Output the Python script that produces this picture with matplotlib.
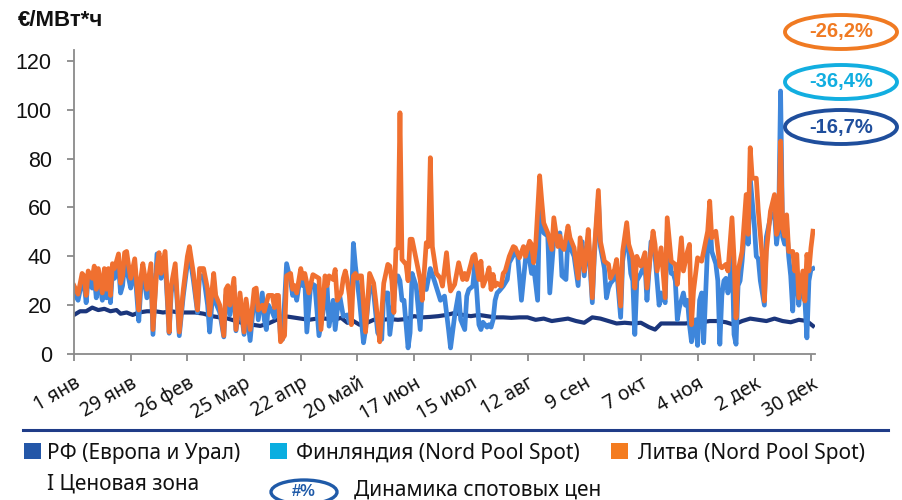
import matplotlib.pyplot as plt
from matplotlib.patches import Ellipse, Rectangle
from matplotlib.lines import Line2D

# day of year (0 = 1 янв) and daily spot price, €/MWh
lt_days = [0, 2, 4, 5, 6, 7, 9, 10, 11, 12, 14, 15, 16, 17, 18, 19, 20, 22, 23, 24,
           25, 26, 27, 28, 30, 32, 33, 34, 36, 38, 39, 41, 42, 43, 45, 47, 48, 50, 52, 54,
           56, 57, 59, 61, 62, 64, 66, 67, 69, 70, 72, 74, 75, 76, 77, 79, 80, 82, 84, 85,
           87, 89, 90, 91, 93, 94, 96, 98, 99, 100, 101, 102, 104, 105, 107, 108, 109, 110, 112, 113,
           114, 116, 118, 119, 121,
           122, 124, 125, 126, 128, 129, 130, 132, 133, 134, 135, 136, 137, 138, 139, 140, 141, 142, 143, 144,
           146, 148, 149, 150, 151, 153, 155, 156, 157, 158, 159, 160, 161, 162, 164, 165, 166, 167, 169, 171,
           172, 174, 175, 176, 177, 179, 181, 182, 184, 185, 186, 188, 190, 192, 193, 194, 196, 197, 198, 200,
           201, 202, 204, 205, 206, 207, 208, 209, 211, 212, 213, 215, 217, 218, 220, 222, 223, 225, 226, 227,
           228, 230, 231, 232, 234, 236, 237, 239, 240, 241, 242,
           244, 245, 247, 249, 250, 252, 253, 254, 256, 257, 259, 260, 262, 264, 265, 267, 268, 270, 271, 273,
           274, 276, 277, 278, 280, 282, 283, 286, 287, 288, 290, 292, 293, 295, 297, 298, 300, 301, 303, 304,
           305, 306, 308, 310, 311, 313, 314, 315, 317, 319, 320, 322, 323, 325, 326, 327, 328, 330, 332, 333,
           334, 335, 337, 338, 340, 341, 342, 344, 346, 347, 348, 349, 350, 351, 352, 353, 355, 356, 357, 358,
           360, 361, 362, 363, 364, 365]
lt_vals = [28, 24.5, 33, 32, 24, 34, 31, 36, 26.5, 35, 25, 35, 26.5, 35, 24, 37, 35, 41, 29, 32,
           41.5, 42, 36, 31, 39, 18, 31, 37, 26.5, 37, 10, 36, 41.5, 33, 42, 9, 28, 37, 9, 26.5,
           40, 44, 33, 18, 35, 35, 26.5, 16, 33, 24, 20, 7.5, 26.5, 28, 20, 31, 10, 25, 9, 22.5,
           10, 26.5, 27, 18, 20, 17.5, 24, 24, 19, 24, 24, 5, 7.5, 32, 33, 26.5, 28, 25, 35, 31,
           33, 25, 32.5, 32, 31,
           10, 32, 28, 32, 30.5, 34.6, 22, 25, 31, 34, 30, 24, 12, 32, 33, 31, 32, 32, 20, 9,
           33, 29, 22, 14, 5, 29, 36.7, 36, 30, 17, 42.8, 43.5, 98.8, 38.7, 36.7, 30, 47, 47, 38.7, 30.5,
           22, 45.6, 44, 80.4, 44, 33, 31, 27.8, 41.5, 32, 25.8, 28.5, 37.4, 30.5, 33, 30.5, 36.7, 40, 40.8, 30.5,
           38, 27.8, 32, 35.3, 26.4, 32.6, 27.8, 29, 27.8, 33, 34, 40, 44, 43.5, 39.4, 44, 40, 46.2, 44.9, 37.4,
           44, 73, 63, 53.7, 49.6, 42.8, 55.8, 44, 48.3, 44, 42.8,
           52.4, 47.6, 43.5, 31, 47.6, 34, 42, 51, 23, 42, 67, 46.2, 38, 36.7, 31, 34.6, 38.7, 19.6, 42, 53.8,
           44.9, 39.4, 27, 40, 36, 41.5, 27, 50.3, 44.9, 34, 43.5, 23, 55.8, 38, 36.7, 28.5, 47.6, 34, 42, 44.9,
           12, 25.8, 39.4, 38, 42, 50.3, 62.6, 47.6, 50.3, 36, 35.3, 36.7, 34, 55.8, 39.4, 14.8, 34, 42, 65.3, 49,
           84.5, 72, 72, 58.5, 39.4, 21.7, 42, 58.5, 65.3, 49, 51.7, 87.2, 51.7, 48.3, 57, 42, 42, 34, 40.8, 23,
           34, 21.7, 40.8, 34, 43.5, 50.3]

fi_days = [0, 2, 4, 5, 6, 7, 9, 10, 11, 12, 14, 15, 16, 17, 18, 19, 20, 22, 23, 24,
           25, 26, 27, 28, 30, 32, 33, 34, 36, 38, 39, 41, 42, 43, 45, 47, 48, 50, 52, 54,
           56, 57, 59, 61, 62, 64, 66, 67, 69, 70, 72, 74, 75, 76, 77, 79, 80, 82, 84, 85,
           87, 89, 90, 91, 93, 94, 95, 96, 98, 99, 100, 101, 102, 103, 105, 107, 108, 109, 110, 112,
           113, 114, 115, 117, 119, 121,
           123, 125, 126, 128, 129, 131, 133, 135, 136, 137, 138, 139, 141, 143, 144, 146, 148, 150, 152, 153,
           155, 156, 157, 158, 159, 160, 161, 162, 163, 165, 166, 167, 169, 171, 172, 174, 176, 178, 181, 183,
           185, 186, 188, 190, 191, 193, 194, 195, 197, 198, 200, 201, 202, 203, 204, 205, 206, 207, 208, 209,
           210, 212, 214, 215, 218, 219, 221, 223, 224, 226, 227, 229, 230, 231, 232, 234, 235, 237, 239, 240,
           241, 243,
           244, 245, 247, 249, 250, 251, 252, 253, 254, 256, 257, 259, 260, 262, 263, 264, 265, 267, 268, 270,
           271, 273, 274, 275, 276, 277, 278, 280, 282, 283, 285, 287, 288, 289, 290, 292, 293, 295, 296, 297,
           298, 299, 300, 301, 302, 303, 304, 305, 306, 307, 308, 309, 310, 311, 312, 313, 314, 315, 317, 318,
           319, 320, 321, 322, 323, 324, 325, 326, 327, 328, 329, 330, 332, 333, 334, 336, 337, 338, 339, 341,
           342, 343, 344, 346, 347, 348, 349, 350, 351, 352, 353, 354, 355, 356, 357, 358, 359, 360, 361, 362,
           363, 364, 365]
fi_vals = [25, 22, 30, 29, 21, 31, 27, 32, 23, 32, 22, 32, 23, 32, 21, 34, 31, 36, 25, 28,
           37, 34, 31, 27, 35, 13.5, 27, 34, 23, 33, 8, 41, 40, 31, 38, 8.5, 25, 34, 7.5, 24,
           37, 41, 30, 17, 32, 32, 20, 9, 30, 21, 17, 7, 24, 25, 16, 28, 9.5, 22, 8, 20,
           5.5, 23, 24, 14, 25, 14, 10, 20, 17, 15, 21, 20, 7, 6, 37, 30, 24, 26, 22, 33,
           28, 30, 9, 29, 28, 7.5,
           17, 27.8, 11.4, 22, 10, 25, 15.5, 16, 13, 20, 45.3, 36, 22, 4.6, 10, 27.8, 25, 8.7, 6, 25,
           25, 8, 15, 22, 32, 32, 30, 22, 22, 2.5, 8.7, 33, 27.8, 10, 27.8, 26.4, 35, 30, 22, 23.7,
           10, 2.5, 15.5, 25, 14, 10, 23.7, 26.4, 27.8, 37.4, 12, 10, 13, 12, 11, 12, 11, 14, 22, 25,
           25.8, 27.8, 30.5, 37.4, 42, 41.5, 22, 38.7, 44, 33, 36, 22, 63, 56, 49.6, 48.3, 25, 47, 48.3, 49.6,
           32, 30.5,
           48, 44, 40, 28, 44, 46, 32, 40, 48, 21, 40, 64, 44, 35, 23, 27, 29, 31, 35, 15,
           38, 50, 42, 33, 30, 8, 30, 33, 37, 22, 46, 40, 30, 20, 25, 21, 50, 33, 33, 30,
           14, 19, 22, 25, 20, 22, 12, 5, 11, 14, 3.5, 22, 25, 4.6, 25, 45, 58, 42, 37, 30,
           4, 24, 30, 31, 25, 30, 45, 8, 4, 28, 30, 38, 60, 45, 72, 53, 40, 39, 30, 20,
           48, 52, 56, 58, 45, 52, 107.7, 48, 45, 52, 40, 32, 17.6, 36, 33, 20, 28, 25, 22, 6.6,
           30, 34.6, 35]

ru_days = [0, 3, 6, 9, 12, 15, 18, 21, 23, 26, 29, 32, 36, 40, 44, 48, 52, 56, 60, 64,
           68, 72, 76, 80, 84, 88, 92, 96, 100, 104, 108, 112, 116, 120, 124, 128, 132, 135, 138, 141,
           144, 148, 152, 156, 160, 164, 168, 172, 176, 180, 184, 188, 192, 196, 200, 204, 208, 212, 216, 220,
           224, 228, 232, 236, 240, 244, 248, 252, 256, 260, 264, 268, 272, 276, 280, 284, 287, 290, 294, 298,
           302, 306, 310, 314, 318, 322, 326, 330, 334, 338, 342, 346, 350, 354, 358, 362, 365]
ru_vals = [16, 17.5, 17.5, 19, 18, 18.5, 17.5, 18, 16.5, 17, 16, 17, 17.5, 17.5, 17, 17.5, 17, 17, 17, 16.5,
           15.5, 15, 14.5, 13.5, 12.5, 12, 11.5, 12.5, 14, 15.5, 15, 14.5, 14, 14.5, 14.5, 14, 14.8, 12.8, 13.5, 12,
           12.5, 14, 14, 14.3, 14, 14.3, 15.5, 15, 15.2, 15.5, 16, 16.8, 16, 15.5, 16, 15.5, 15, 15, 14.8, 15,
           15, 14, 14.5, 13.5, 14, 14.5, 13.5, 12.8, 15, 14.5, 13.5, 12.5, 12.8, 12.5, 12.8, 11, 10, 12.5, 12.5, 12.5,
           12.5, 13, 13, 13.5, 13.5, 13, 12, 13.5, 14.5, 14, 13.5, 14.5, 13.5, 13, 14, 13.5, 11.5]

tick_days = list(range(0, 365, 28))
tick_labels = ["1 янв", "29 янв", "26 фев", "25 мар", "22 апр", "20 май", "17 июн",
               "15 июл", "12 авг", "9 сен", "7 окт", "4 ноя", "2 дек", "30 дек"]

changes = ["-26,2%", "-36,4%", "-16,7%"]

W, H = 902, 500
FONT = "Noto Sans"
BOLD = "Liberation Sans"

fig = plt.figure(figsize=(W / 100, H / 100), dpi=100)
ax = fig.add_axes([74 / W, 1 - 354 / H, 741 / W, 304 / H])

ax.plot(ru_days, ru_vals, color="#1b367c", lw=3.0, solid_joinstyle="round")
ax.plot(fi_days, fi_vals, color="#3e86db", lw=3.4, solid_joinstyle="round")
ax.plot(lt_days, lt_vals, color="#f07030", lw=3.4, solid_joinstyle="round")

ax.set_xlim(0, 366)
ax.set_ylim(0, 124.5)
ax.set_yticks(range(0, 121, 20))
ax.set_xticks(tick_days)
ax.set_xticklabels(tick_labels, rotation=30, ha="right", rotation_mode="anchor",
                   fontsize=14, family=FONT, color="#111111")
for lbl in ax.get_yticklabels():
    lbl.set_family("Liberation Sans")
    lbl.set_fontsize(15.5)
    lbl.set_color("#111111")

for s in ["top", "right"]:
    ax.spines[s].set_visible(False)
for s in ["left", "bottom"]:
    ax.spines[s].set_color("#8a8a8a")
    ax.spines[s].set_linewidth(1.3)
ax.tick_params(axis="both", direction="out", length=5, width=1.3, color="#8a8a8a")
ax.tick_params(axis="y", pad=11)
ax.tick_params(axis="x", pad=9)

fig.text(18 / W, 1 - 21 / H, "€/МВт*ч", fontsize=16, fontweight="bold",
         family=BOLD, va="center", ha="left", color="#111111")

# percentage change badges
badge_colors = ["#f07a22", "#12aee0", "#1f4e9c"]
badge_y = [32, 82, 127]
for txt, col, cy in zip(changes, badge_colors, badge_y):
    fig.add_artist(Ellipse((841 / W, 1 - cy / H), 112 / W, 34 / H, transform=fig.transFigure,
                           fill=False, ec=col, lw=2.8))
    fig.text(841 / W, 1 - cy / H, txt, fontsize=14.5, fontweight="bold", family=BOLD,
             color=col, ha="center", va="center")

# legend area
fig.add_artist(Line2D([23 / W, 888 / W], [1 - 430 / H] * 2, transform=fig.transFigure,
                      color="#1f3c88", lw=2.2))

legend_items = [("РФ (Европа и Урал)", "#2457a8", 24, 47),
                ("Финляндия (Nord Pool Spot)", "#0aaee0", 270, 296),
                ("Литва (Nord Pool Spot)", "#f47c20", 611, 638)]
for name, col, sx, tx in legend_items:
    fig.add_artist(Rectangle((sx / W, 1 - 459 / H), 17 / W, 16 / H, transform=fig.transFigure,
                             color=col, lw=0))
    fig.text(tx / W, 1 - 453 / H, name, fontsize=15, family=FONT, color="#111111",
             ha="left", va="center")
fig.text(47 / W, 1 - 484 / H, "I Ценовая зона", fontsize=15, family=FONT,
         color="#111111", ha="left", va="center")

fig.add_artist(Ellipse((304 / W, 1 - 492 / H), 66 / W, 24 / H, transform=fig.transFigure,
                       fill=False, ec="#1f5aa8", lw=2.4))
fig.text(304 / W, 1 - 492 / H, "#%", fontsize=12, fontweight="bold", family=BOLD,
         color="#1f5aa8", ha="center", va="center")
fig.text(354 / W, 1 - 490 / H, "Динамика спотовых цен", fontsize=15, family=FONT,
         color="#111111", ha="left", va="center")

fig.savefig("out.png", dpi=100)
